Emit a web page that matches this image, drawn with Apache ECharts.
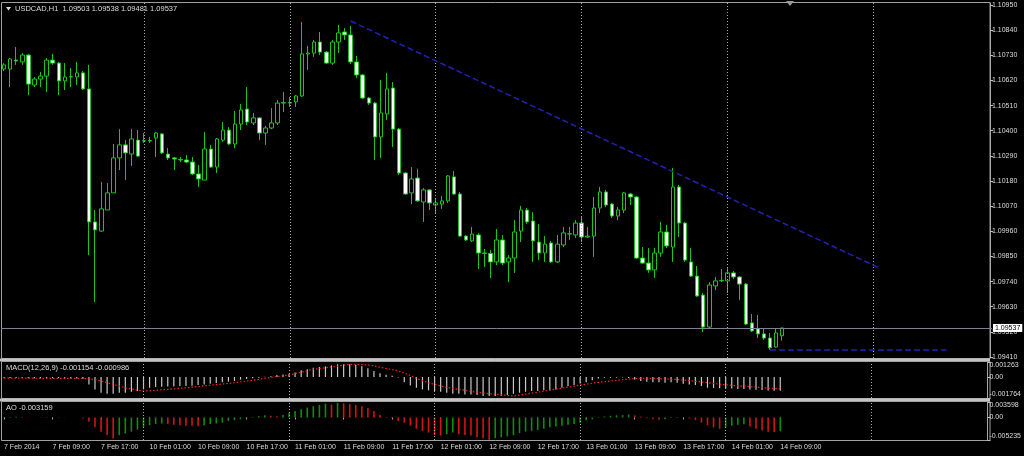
<!DOCTYPE html>
<html><head><meta charset="utf-8">
<script src="https://cdn.jsdelivr.net/npm/echarts@6/dist/echarts.min.js"></script>
<style>html,body{margin:0;padding:0;background:#000;}#c{width:1024px;height:456px;}</style>
</head><body><div id="c"></div>
<script>
// ---- data (USDCAD H1) ----
const symbolTitle = 'USDCAD,H1';
const open = [
1.10670,1.10670,1.10709,1.10701,1.10731,1.10600,1.10626,1.10639,1.10709,1.10696,
1.10618,1.10635,1.10635,1.10653,1.10583,1.10001,1.09961,1.10053,1.10128,1.10281,
1.10338,1.10298,1.10359,1.10355,1.10357,1.10368,1.10386,1.10298,1.10281,1.10274,
1.10272,1.10263,1.10211,1.10184,1.10320,1.10241,1.10359,1.10403,1.10342,1.10429,
1.10495,1.10434,1.10456,1.10390,1.10412,1.10434,1.10521,1.10523,1.10526,1.10552,
1.10736,1.10740,1.10788,1.10744,1.10696,1.10788,1.10832,1.10819,1.10701,1.10644,
1.10543,1.10521,1.10373,1.10473,1.10587,1.10407,1.10215,1.10128,1.10193,1.10088,
1.10141,1.10075,1.10079,1.10093,1.10198,1.10123,1.09939,1.09918,1.09944,1.09865,
1.09863,1.09826,1.09922,1.09826,1.09843,1.09961,1.10053,1.10005,1.09913,1.09865,
1.09909,1.09826,1.09900,1.09948,1.09944,1.09996,1.09935,1.09939,1.10062,1.10132,
1.10079,1.10027,1.10053,1.10123,1.10110,1.09843,1.09821,1.09791,1.09865,1.09957,
1.09891,1.10154,1.09996,1.09826,1.09764,1.09681,1.09541,1.09721,1.09743,1.09743,
1.09778,1.09760,1.09729,1.09559,1.09533,1.09511,1.09493,1.09454,1.09503];
const close = [
1.10688,1.10714,1.10705,1.10731,1.10604,1.10626,1.10639,1.10709,1.10696,1.10618,
1.10635,1.10637,1.10653,1.10583,1.10001,1.09966,1.10058,1.10128,1.10281,1.10338,
1.10303,1.10364,1.10289,1.10357,1.10355,1.10390,1.10303,1.10281,1.10276,1.10272,
1.10263,1.10211,1.10189,1.10320,1.10241,1.10364,1.10403,1.10342,1.10429,1.10491,
1.10438,1.10456,1.10390,1.10412,1.10434,1.10521,1.10523,1.10521,1.10552,1.10736,
1.10740,1.10788,1.10744,1.10696,1.10788,1.10828,1.10819,1.10701,1.10644,1.10543,
1.10521,1.10373,1.10478,1.10583,1.10407,1.10215,1.10123,1.10189,1.10093,1.10141,
1.10084,1.10084,1.10093,1.10202,1.10123,1.09939,1.09922,1.09948,1.09865,1.09863,
1.09826,1.09922,1.09821,1.09843,1.09957,1.10053,1.10001,1.09918,1.09865,1.09904,
1.09826,1.09904,1.09953,1.09950,1.09996,1.09935,1.09939,1.10062,1.10132,1.10075,
1.10027,1.10053,1.10128,1.10110,1.09843,1.09821,1.09791,1.09865,1.09957,1.09896,
1.10154,1.09996,1.09834,1.09764,1.09677,1.09541,1.09725,1.09743,1.09745,1.09778,
1.09760,1.09729,1.09554,1.09524,1.09511,1.09493,1.09450,1.09515,1.09537];
const low = [
1.10661,1.10591,1.10688,1.10688,1.10556,1.10591,1.10591,1.10569,1.10688,1.10556,
1.10578,1.10591,1.10600,1.10578,1.09856,1.09651,1.09957,1.10053,1.10128,1.10228,
1.10184,1.10246,1.10285,1.10346,1.10346,1.10285,1.10298,1.10272,1.10228,1.10263,
1.10259,1.10206,1.10154,1.10184,1.10237,1.10215,1.10351,1.10338,1.10324,1.10403,
1.10425,1.10425,1.10359,1.10338,1.10407,1.10425,1.10482,1.10504,1.10504,1.10548,
1.10666,1.10723,1.10731,1.10692,1.10688,1.10740,1.10797,1.10692,1.10631,1.10539,
1.10513,1.10272,1.10281,1.10447,1.10329,1.10206,1.10119,1.10079,1.10088,1.10001,
1.10053,1.10040,1.10058,1.10084,1.10119,1.09935,1.09918,1.09913,1.09795,1.09804,
1.09756,1.09812,1.09812,1.09738,1.09778,1.09913,1.09992,1.09826,1.09834,1.09826,
1.09821,1.09821,1.09891,1.09922,1.09931,1.09913,1.09931,1.09848,1.10040,1.10066,
1.10018,1.10009,1.10040,1.10075,1.09839,1.09817,1.09778,1.09756,1.09848,1.09887,
1.09826,1.09935,1.09826,1.09760,1.09673,1.09519,1.09537,1.09703,1.09738,1.09690,
1.09751,1.09659,1.09550,1.09519,1.09493,1.09485,1.09441,1.09450,1.09481];
const high = [
1.10696,1.10718,1.10766,1.10740,1.10736,1.10635,1.10657,1.10718,1.10736,1.10701,
1.10696,1.10674,1.10701,1.10661,1.10688,1.10053,1.10176,1.10171,1.10342,1.10407,
1.10359,1.10407,1.10403,1.10390,1.10373,1.10394,1.10390,1.10324,1.10285,1.10285,
1.10294,1.10285,1.10250,1.10394,1.10338,1.10368,1.10438,1.10416,1.10486,1.10517,
1.10591,1.10478,1.10460,1.10421,1.10499,1.10534,1.10569,1.10548,1.10556,1.10876,
1.10771,1.10797,1.10832,1.10749,1.10797,1.10863,1.10849,1.10858,1.10727,1.10648,
1.10548,1.10526,1.10622,1.10653,1.10613,1.10412,1.10219,1.10241,1.10233,1.10149,
1.10145,1.10106,1.10114,1.10206,1.10224,1.10132,1.09944,1.09979,1.09953,1.09883,
1.09878,1.09970,1.09944,1.09856,1.10009,1.10071,1.10062,1.10044,1.09992,1.09939,
1.09918,1.09944,1.09979,1.09979,1.10009,1.10023,1.09979,1.10110,1.10154,1.10141,
1.10084,1.10066,1.10132,1.10128,1.10114,1.09891,1.09887,1.09887,1.10001,1.09988,
1.10237,1.10163,1.10001,1.09887,1.09808,1.09690,1.09738,1.09760,1.09795,1.09799,
1.09786,1.09764,1.09734,1.09598,1.09594,1.09533,1.09515,1.09537,1.09538];

const macdMain = [
-0.00008,-0.00008,-0.00009,-0.00009,-0.0001,-0.0001,-0.00011,-0.00011,-0.0001,-0.0001,
-0.00011,-0.00011,-0.00012,-0.00016,-0.00062,-0.00104,-0.00132,-0.00141,-0.00141,-0.00132,
-0.00132,-0.00124,-0.00118,-0.00104,-0.0009,-0.00084,-0.00081,-0.00079,-0.00079,-0.00076,
-0.00076,-0.00073,-0.00067,-0.00062,-0.00056,-0.00051,-0.00045,-0.00039,-0.00034,-0.00022,
-0.00017,-0.00011,-0.00006,0.00002,0.00006,0.00017,0.00022,0.00028,0.00037,0.00056,
0.00065,0.00079,0.00084,0.0009,0.00098,0.00107,0.00107,0.00107,0.00101,0.0009,
0.00073,0.00051,0.00032,0.0002,0.0001,-0.00005,-0.00045,-0.00072,-0.0009,-0.00104,
-0.00112,-0.00118,-0.00124,-0.00132,-0.00141,-0.00141,-0.00146,-0.00146,-0.00152,-0.0016,
-0.0016,-0.0016,-0.0016,-0.00152,-0.00141,-0.00132,-0.00124,-0.00118,-0.00118,-0.00112,
-0.00112,-0.00104,-0.0009,-0.00076,-0.00067,-0.00055,-0.00045,-0.00028,-0.00012,-0.00006,
-0.00006,-0.00006,-0.00004,-0.00008,-0.0002,-0.00034,-0.00039,-0.00045,-0.00045,-0.00048,
-0.00045,-0.00048,-0.00056,-0.00062,-0.00067,-0.00076,-0.0009,-0.00092,-0.00094,-0.00096,
-0.00096,-0.00101,-0.00101,-0.00104,-0.00107,-0.0011,-0.00114,-0.00115,-0.001154];
const macdSignal = [
-0.0001,-0.0001,-0.0001,-0.0001,-0.0001,-0.0001,-0.00011,-0.00011,-0.00011,-0.00011,
-0.00011,-0.00011,-0.00011,-0.00011,-0.00015,-0.00022,-0.00034,-0.00048,-0.00062,-0.00076,
-0.0009,-0.00101,-0.0011,-0.00118,-0.00116,-0.00112,-0.00108,-0.00104,-0.001,-0.00095,
-0.0009,-0.00085,-0.0008,-0.00074,-0.00069,-0.00064,-0.00059,-0.00054,-0.00048,-0.00041,
-0.00034,-0.00027,-0.0002,-0.00011,-0.00004,0.00003,0.0001,0.00017,0.00029,0.00041,
0.00053,0.00065,0.00072,0.00078,0.00084,0.00092,0.001,0.00107,0.00107,0.00104,
0.00101,0.00094,0.00082,0.00072,0.00062,0.00051,0.00035,0.00012,-0.00012,-0.0003,
-0.00048,-0.00062,-0.00075,-0.00087,-0.00096,-0.00104,-0.00112,-0.0012,-0.00128,-0.00135,
-0.0014,-0.00145,-0.0015,-0.00155,-0.0016,-0.00152,-0.00144,-0.00136,-0.00128,-0.00118,
-0.0011,-0.00102,-0.00094,-0.00085,-0.00076,-0.00068,-0.0006,-0.00052,-0.00045,-0.0004,
-0.00034,-0.00028,-0.00022,-0.00017,-0.00013,-0.00011,-0.00011,-0.00012,-0.00014,-0.00016,
-0.00018,-0.0002,-0.00025,-0.0003,-0.00036,-0.00042,-0.00048,-0.00054,-0.0006,-0.00065,
-0.0007,-0.00074,-0.00076,-0.00081,-0.00086,-0.0009,-0.00094,-0.00097,-0.000986];
const ao = [
0.0001,0.00012,0.00015,0.0001,0.00005,0.0,-0.00005,-0.0001,-0.00008,-0.00005,
-0.00003,0.0,0.00002,-0.0002,-0.001,-0.0022,-0.0033,-0.0041,-0.0049,-0.0041,
-0.0037,-0.0033,-0.0028,-0.0022,-0.0018,-0.0015,-0.0014,-0.0015,-0.0017,-0.0018,
-0.0019,-0.00195,-0.002,-0.0018,-0.0015,-0.0014,-0.0012,-0.0008,-0.0006,-0.0004,
-0.0002,0.0001,0.0003,0.0005,0.0004,0.0003,0.0006,0.0011,0.0015,0.0019,
0.0023,0.0026,0.0029,0.0032,0.0030,0.0034,0.0033,0.0031,0.0029,0.0026,
0.0022,0.0015,0.0006,0.0001,-0.0002,-0.0008,-0.0012,-0.0019,-0.0026,-0.0031,
-0.0035,-0.0041,-0.0042,-0.0039,-0.0035,-0.0039,-0.0041,-0.0042,-0.0046,-0.0048,
-0.0052,-0.0048,-0.0046,-0.0044,-0.0041,-0.0036,-0.0033,-0.0031,-0.0029,-0.0026,
-0.0023,-0.0021,-0.0019,-0.0017,-0.0015,-0.0012,-0.0006,-0.0004,-0.0001,0.0002,
0.0004,0.0005,0.00055,0.0007,0.0005,0.0002,-0.0002,-0.0004,-0.0005,-0.0004,
-0.0001,0.0001,0.00005,-0.0002,-0.0006,-0.0012,-0.0018,-0.0023,-0.0026,-0.0024,
-0.0019,-0.0017,-0.0016,-0.0021,-0.0026,-0.003,-0.0033,-0.00335,-0.003159];

const priceTicks = [1.09410,1.09520,1.09630,1.09740,1.09850,1.09960,1.10070,1.10180,1.10290,1.10400,1.10510,1.10620,1.10730,1.10840,1.10950];
const priceRange = [1.094056, 1.109588];
const macdRange = [-0.001764, 0.001263];
const aoRange = [-0.005235, 0.003598];
const daySeparators = ['10 Feb 00:00','11 Feb 00:00','12 Feb 00:00','13 Feb 00:00','14 Feb 00:00','15 Feb 00:00'];
const trendStart = {time:'11 Feb 10:00', price:1.10880};
const trendEnd = {time:'15 Feb 01:00', price:1.09799};
const supportLine = {from:'14 Feb 07:00', to:'15 Feb 12:00', price:1.09441};
const firstLabel = '7 Feb 2014';

// hourly categories incl. empty future slots (weekend skipped)
const categories = [];
(function(){ let day = 7, h = 1;
  while (categories.length < 163) {
    categories.push(day + ' Feb ' + (h < 10 ? '0' : '') + h + ':00');
    h++; if (h === 24) { h = 0; day = (day === 7) ? 10 : day + 1; }
  }})();

const n = close.length;
const last = n - 1;
const candleData = open.map((o, i) => [o, close[i], low[i], high[i]]);
const aoData = ao.map((v, i) => ({value: v, itemStyle: {color: (i === 0 || v >= ao[i-1]) ? '#0b8f0b' : '#d41414'}}));
const emptyData = close.map(() => null);

const TXT = '#dcdcdc', FONT = 'Liberation Sans';
const sepLines = daySeparators.map(d => ({xAxis: d}));
const sepStyle = {color: '#b0b0b0', type: [1, 2], width: 1};
const blueStyle = {color: '#2222b4', type: [6, 3], width: 1.5};

const chart = echarts.init(document.getElementById('c'), null, {renderer: 'canvas'});
const labelInterval = (i) => i % 8 === 0 && i <= last;
const mkX = (gi, showLabels) => ({
  type: 'category', gridIndex: gi, data: categories, boundaryGap: true,
  axisLine: {show: false}, splitLine: {show: false},
  axisTick: showLabels ? {show: true, interval: labelInterval, alignWithLabel: true, length: 2, lineStyle: {color: '#b0b0b0'}} : {show: false},
  axisLabel: showLabels ? {show: true, interval: labelInterval, align: 'left', color: TXT, fontSize: 7, fontFamily: FONT, margin: 4,
    formatter: (v, i) => i === 0 ? firstLabel : v} : {show: false}
});
const mkY = (gi, range, values, fmt) => ({
  type: 'value', gridIndex: gi, position: 'right', offset: -2, scale: true,
  min: range[0], max: range[1],
  axisLine: {show: true, lineStyle: {color: '#a8a8a8'}},
  axisTick: {show: true, length: 3, customValues: values, lineStyle: {color: '#c0c0c0'}},
  splitLine: {show: false},
  axisLabel: {show: true, customValues: values, formatter: fmt, color: TXT, fontSize: 7, fontFamily: FONT, margin: 2,
    verticalAlignMaxLabel: gi === 0 ? null : 'top', verticalAlignMinLabel: gi === 0 ? null : 'bottom'}
});
const indFmt = v => Math.abs(v) < 1e-12 ? '0.00' : v.toFixed(6);

const option = {
  backgroundColor: '#000', animation: false,
  grid: [
    {left: 1, width: 991, top: 3, height: 355},
    {left: 1, width: 991, top: 362, height: 36},
    {left: 1, width: 991, top: 402, height: 38}
  ],
  xAxis: [mkX(0, false), mkX(1, false), mkX(2, true)],
  yAxis: [
    mkY(0, priceRange, priceTicks, v => v.toFixed(5)),
    mkY(1, macdRange, [macdRange[0], 0, macdRange[1]], indFmt),
    mkY(2, aoRange, [aoRange[0], 0, aoRange[1]], indFmt)
  ],
  series: [
    {type: 'line', xAxisIndex: 0, yAxisIndex: 0, data: emptyData, showSymbol: false, symbol: 'none', lineStyle: {opacity: 0}, silent: true,
     markLine: {silent: true, symbol: ['none', 'none'], animation: false, precision: 6,
       data: [
         ...sepLines.map(s => Object.assign({lineStyle: sepStyle, label: {show: false}}, s)),
         {yAxis: close[last], lineStyle: {color: '#7a8490', type: 'solid', width: 1},
          label: {show: true, position: 'end', distance: 1, formatter: close[last].toFixed(5), backgroundColor: '#fff', color: '#000', fontSize: 7, fontFamily: FONT, padding: [1, 2, 0, 2]}},
         [{coord: [trendStart.time, trendStart.price], lineStyle: blueStyle, label: {show: false}},
          {coord: [trendEnd.time, trendEnd.price]}],
         [{coord: [supportLine.from, supportLine.price], lineStyle: blueStyle, label: {show: false}},
          {coord: [supportLine.to, supportLine.price]}]
       ]}},
    {type: 'candlestick', xAxisIndex: 0, yAxisIndex: 0, data: candleData, barWidth: 4,
     itemStyle: {color: '#000', color0: '#ffffff', borderColor: '#1cc41c', borderColor0: '#1cc41c', borderWidth: 1}},
    {type: 'bar', xAxisIndex: 1, yAxisIndex: 1, data: macdMain, barWidth: 1.2, itemStyle: {color: '#c8c8c8'},
     markLine: {silent: true, symbol: ['none', 'none'], lineStyle: sepStyle, label: {show: false}, data: sepLines}},
    {type: 'line', xAxisIndex: 1, yAxisIndex: 1, data: macdSignal, showSymbol: false, symbol: 'none',
     lineStyle: {color: '#ff2020', type: [1.5, 2], width: 1.2}},
    {type: 'bar', xAxisIndex: 2, yAxisIndex: 2, data: aoData, barWidth: 1.6,
     markLine: {silent: true, symbol: ['none', 'none'], lineStyle: sepStyle, label: {show: false}, data: sepLines}}
  ],
  graphic: [
    {type: 'rect', shape: {x: 1.5, y: 2.5, width: 988.5, height: 356}, style: {fill: null, stroke: '#a0a0a0', lineWidth: 1}, silent: true},
    {type: 'rect', shape: {x: 0, y: 358.5, width: 990, height: 3}, style: {fill: '#c4c4c4'}, silent: true},
    {type: 'rect', shape: {x: 1.5, y: 361.5, width: 988.5, height: 37}, style: {fill: null, stroke: '#a0a0a0', lineWidth: 1}, silent: true},
    {type: 'rect', shape: {x: 0, y: 398.5, width: 990, height: 3}, style: {fill: '#c4c4c4'}, silent: true},
    {type: 'rect', shape: {x: 1.5, y: 401.5, width: 988.5, height: 39}, style: {fill: null, stroke: '#a0a0a0', lineWidth: 1}, silent: true},
    {type: 'polygon', shape: {points: [[6, 7], [11, 7], [8.5, 10.5]]}, style: {fill: '#dcdcdc'}, silent: true},
    {type: 'polygon', shape: {points: [[786, 1], [794, 1], [790, 6]]}, style: {fill: '#9a9a9a'}, silent: true},
    {type: 'text', x: 15, y: 5, style: {text: symbolTitle + '  ' + open[last].toFixed(5) + ' ' + high[last].toFixed(5) + ' ' + low[last].toFixed(5) + ' ' + close[last].toFixed(5), fill: TXT, fontSize: 7.5, fontFamily: FONT}, silent: true},
    {type: 'text', x: 6, y: 364, style: {text: 'MACD(12,26,9) ' + macdMain[last].toFixed(6) + ' ' + macdSignal[last].toFixed(6), fill: TXT, fontSize: 7.5, fontFamily: FONT}, silent: true},
    {type: 'text', x: 6, y: 404, style: {text: 'AO ' + ao[last].toFixed(6), fill: TXT, fontSize: 7.5, fontFamily: FONT}, silent: true}
  ]
};
chart.setOption(option);
</script>
</body></html>
